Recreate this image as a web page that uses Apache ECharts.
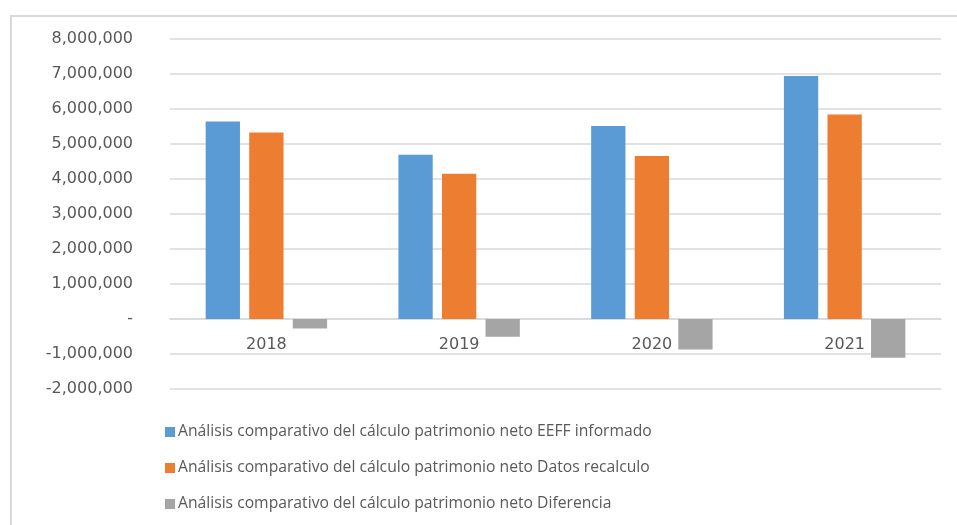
<!DOCTYPE html>
<html>
<head>
<meta charset="utf-8">
<script src="https://cdn.jsdelivr.net/npm/echarts@6/dist/echarts.min.js"></script>
<style>
  html, body { margin: 0; padding: 0; background: #fff; }
  #chart { width: 957px; height: 525px; }
</style>
</head>
<body>
<div id="chart"></div>
<script>
// datos
const years = ['2018', '2019', '2020', '2021'];
const eeffInformado = [5640000, 4690000, 5515000, 6945000];
const datosRecalculo = [5330000, 4150000, 4660000, 5840000];
const diferencia = [-270000, -505000, -870000, -1105000];

const seriesNames = [
    'Análisis comparativo del cálculo patrimonio neto EEFF informado',
    'Análisis comparativo del cálculo patrimonio neto Datos recalculo',
    'Análisis comparativo del cálculo patrimonio neto Diferencia'
];
const colors = ['#5b9bd5', '#ed7d31', '#a5a5a5'];

function fmtNum(v) {
    if (v === 0) return '-';
    return v.toLocaleString('en-US');
}

let chartDiv = echarts.init(document.getElementById('chart'), null, {renderer: 'canvas'});
let option = {
    animation: false,
    textStyle: {
        fontFamily: 'Open Sans'
    },
    graphic: [{
        type: 'polyline',
        shape: {points: [[11, 525], [11, 16], [957, 16]]},
        style: {stroke: '#d9d9d9', lineWidth: 2, fill: null}
    }],
    grid: {
        left: 170,
        right: 16,
        top: 39,
        bottom: 136
    },
    legend: {
        orient: 'vertical',
        left: 165,
        top: 423,
        padding: 0,
        itemWidth: 10,
        itemHeight: 10,
        itemGap: 18,
        icon: 'rect',
        data: seriesNames,
        textStyle: {
            color: '#595959',
            fontSize: 15.7,
            lineHeight: 18,
            padding: [0, 0, 0, -2]
        }
    },
    xAxis: {
        type: 'category',
        data: years,
        offset: -70,
        axisLine: {
            onZero: false,
            lineStyle: {color: '#d9d9d9', width: 1.5}
        },
        axisTick: {show: false},
        axisLabel: {
            color: '#595959',
            fontFamily: 'DejaVu Sans',
            fontSize: 16,
            margin: 18
        }
    },
    yAxis: {
        type: 'value',
        min: -2000000,
        max: 8000000,
        interval: 1000000,
        axisLine: {show: false},
        axisTick: {show: false},
        splitLine: {
            lineStyle: {color: '#d9d9d9', width: 1.5}
        },
        axisLabel: {
            color: '#595959',
            fontFamily: 'DejaVu Sans',
            fontSize: 16,
            margin: 37,
            formatter: fmtNum
        }
    },
    series: [{
        name: seriesNames[0],
        type: 'bar',
        data: eeffInformado,
        barGap: '27%',
        barCategoryGap: '37%',
        itemStyle: {color: colors[0]}
    },
    {
        name: seriesNames[1],
        type: 'bar',
        data: datosRecalculo,
        itemStyle: {color: colors[1]}
    },
    {
        name: seriesNames[2],
        type: 'bar',
        data: diferencia,
        itemStyle: {color: colors[2]}
    }]
};
chartDiv.setOption(option);
</script>
</body>
</html>
